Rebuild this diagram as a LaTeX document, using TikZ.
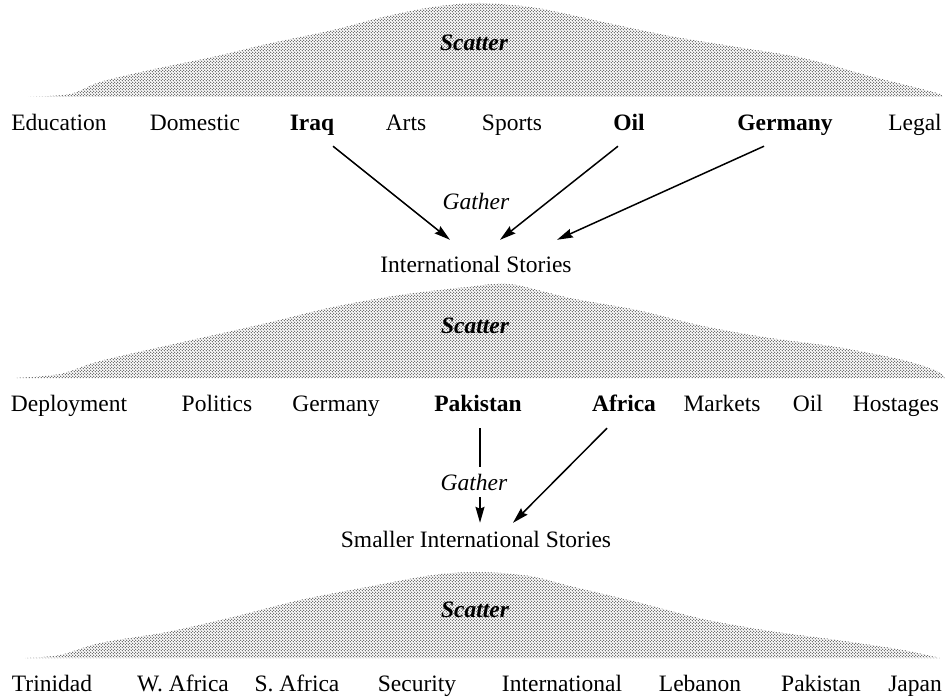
\documentclass[tikz,border=0pt]{standalone}
\usepackage{fontspec}
\setmainfont{Liberation Serif}
\usetikzlibrary{patterns,arrows.meta}
\pgfdeclarepatternformonly{halftone}{\pgfqpoint{-0.1pt}{-0.1pt}}{\pgfqpoint{3.1pt}{3.1pt}}{\pgfqpoint{3pt}{3pt}}{%
  \pgfpathcircle{\pgfqpoint{0.75pt}{0.75pt}}{0.68pt}%
  \pgfpathcircle{\pgfqpoint{2.25pt}{2.25pt}}{0.68pt}%
  \pgfusepath{fill}%
}
\begin{document}
\begin{tikzpicture}[x=1pt,y=-1pt,
  lbl/.style={font=\fontsize{23.5}{28}\selectfont, anchor=base, inner sep=0pt, text height=16pt, text depth=5pt},
  blbl/.style={lbl, font=\fontsize{23.5}{28}\selectfont\bfseries},
  scat/.style={lbl, font=\fontsize{23.5}{28}\selectfont\bfseries\itshape},
  gath/.style={lbl, font=\fontsize{23.5}{28}\selectfont\itshape},
  mound/.style={pattern=halftone, pattern color=black!75},
  arr/.style={-{Stealth[length=16pt,width=9pt,inset=2pt]}, line width=1.5pt},
  plain/.style={line width=1.5pt}]
\useasboundingbox (0,0) rectangle (948,698);

% ---- scatter mounds ----
\fill[mound] plot[smooth] coordinates {(28,97) (70,94) (100,82) (150,70) (217,56) (267,44) (333,30) (383,17) (433,7) (480,3) (537,8) (603,22) (670,36) (737,47) (803,58) (870,76) (937,93) (942,97)} -- cycle;
\fill[mound] plot[smooth] coordinates {(15,378) (60,374) (100,361) (183,342) (267,323) (333,307) (400,295) (467,287) (510,284) (570,298) (637,310) (703,326) (770,338) (837,347) (903,360) (937,371) (945,378)} -- cycle;
\fill[mound] plot[smooth] coordinates {(25,658) (60,655) (100,643) (167,632) (233,617) (300,600) (367,587) (433,575) (480,572) (530,576) (570,586) (637,602) (703,619) (770,631) (837,640) (903,650) (940,658)} -- cycle;

\node[scat] (scat1) at (474,51) {Scatter};
\node[scat] (scat2) at (475,333) {Scatter};
\node[scat] (scat3) at (475,617) {Scatter};

% ---- row 1 ----
\node[lbl]  (edu)    at (59,131)  {Education};
\node[lbl]  (dom)    at (195,131) {Domestic};
\node[blbl] (iraq)   at (312,131) {Iraq};
\node[lbl]  (arts)   at (406,131) {Arts};
\node[lbl]  (sports) at (512,131) {Sports};
\node[blbl] (oil1)   at (629,131) {Oil};
\node[blbl] (ger1)   at (785,131) {Germany};
\node[lbl]  (legal)  at (915,131) {Legal};

\node[gath] (gath1) at (476,209) {Gather};
\node[lbl]  (intl)  at (476,272) {International Stories};

\draw[arr] ([xshift=21pt,yshift=-10pt]iraq.south) -- ([xshift=-26pt,yshift=16pt]intl.north);
\draw[arr] ([xshift=-11pt,yshift=-10pt]oil1.south) -- ([xshift=24pt,yshift=16pt]intl.north);
\draw[arr] ([xshift=-21pt,yshift=-10pt]ger1.south) -- ([xshift=81pt,yshift=16pt]intl.north);

% ---- row 2 ----
\node[lbl]  (depl)  at (69,411)  {Deployment};
\node[lbl]  (pol)   at (217,411) {Politics};
\node[lbl]  (ger2)  at (336,411) {Germany};
\node[blbl] (pak2)  at (478,411) {Pakistan};
\node[blbl] (afr)   at (624,411) {Africa};
\node[lbl]  (mkt)   at (722,411) {Markets};
\node[lbl]  (oil2)  at (808,411) {Oil};
\node[lbl]  (host)  at (896,411) {Hostages};

\node[gath] (gath2) at (474,490) {Gather};
\node[lbl]  (small) at (476,547) {Smaller International Stories};

\draw[plain] ([xshift=2pt,yshift=-12pt]pak2.south) -- ([xshift=6pt,yshift=7pt]gath2.north);
\draw[arr] ([xshift=6pt,yshift=-2pt]gath2.south) -- ([xshift=4pt,yshift=8pt]small.north);
\draw[arr] ([xshift=-17pt,yshift=-12pt]afr.south) -- ([xshift=37pt,yshift=8pt]small.north);

% ---- row 3 ----
\node[lbl] (trin)  at (52,691)  {Trinidad};
\node[lbl] (wafr)  at (183,691) {W. Africa};
\node[lbl] (safr)  at (297,691) {S. Africa};
\node[lbl] (sec)   at (417,691) {Security};
\node[lbl] (intl3) at (562,691) {International};
\node[lbl] (leb)   at (700,691) {Lebanon};
\node[lbl] (pak3)  at (821,691) {Pakistan};
\node[lbl] (jap)   at (915,691) {Japan};
\end{tikzpicture}
\end{document}
